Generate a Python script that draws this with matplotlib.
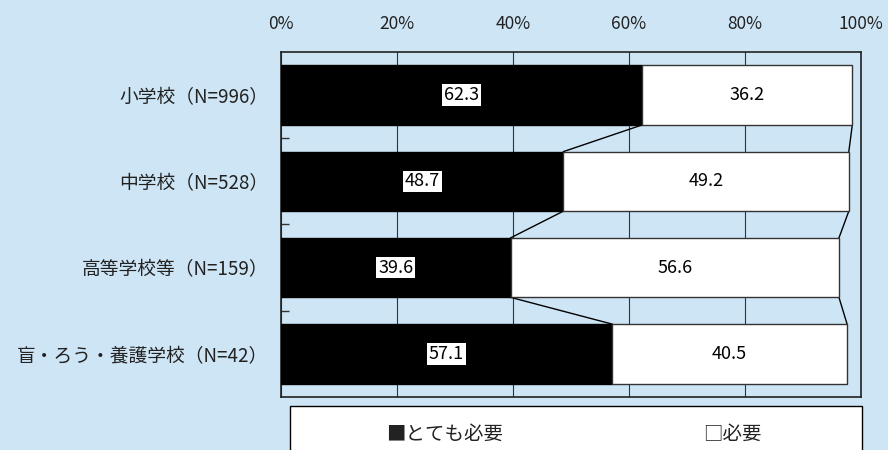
import matplotlib.pyplot as plt
from matplotlib.patches import Rectangle

plt.rcParams['font.family'] = ['Noto Sans CJK JP', 'DejaVu Sans']

# data
schools = ["小学校（N=996）", "中学校（N=528）", "高等学校等（N=159）", "盲・ろう・養護学校（N=42）"]
very_needed = [62.3, 48.7, 39.6, 57.1]
needed = [36.2, 49.2, 56.6, 40.5]
legend_labels = ["■とても必要", "□必要"]

bg = "#cee5f5"
fig = plt.figure(figsize=(8.88, 4.5), dpi=100, facecolor=bg)
ax = fig.add_axes([0.3164, 0.1178, 0.6532, 0.7667])
ax.set_facecolor(bg)

y = list(range(len(schools)))
h = 0.69
ax.barh(y, very_needed, height=h, color="black", edgecolor="black", linewidth=1, zorder=3)
ax.barh(y, needed, left=very_needed, height=h, color="white", edgecolor="#333333", linewidth=1, zorder=3)

# series lines between bars
for i in range(len(schools) - 1):
    ax.plot([very_needed[i], very_needed[i + 1]], [i + h / 2, i + 1 - h / 2], color="black", lw=1, zorder=2)
    t0 = very_needed[i] + needed[i]
    t1 = very_needed[i + 1] + needed[i + 1]
    ax.plot([t0, t1], [i + h / 2, i + 1 - h / 2], color="black", lw=1, zorder=2)

# data labels
for i in y:
    ax.text(very_needed[i] / 2, i, f"{very_needed[i]:.1f}", ha="center", va="center", fontsize=13,
            color="black", zorder=5,
            bbox=dict(boxstyle="square,pad=0.1", facecolor="white", edgecolor="none"))
    ax.text(very_needed[i] + needed[i] / 2, i, f"{needed[i]:.1f}", ha="center", va="center",
            fontsize=13, color="black", zorder=5)

ax.set_xlim(0, 100)
ax.set_ylim(len(schools) - 0.5, -0.5)
ax.set_xticks([0, 20, 40, 60, 80, 100])
ax.set_xticklabels(["0%", "20%", "40%", "60%", "80%", "100%"], fontsize=12.5)
ax.xaxis.tick_top()
ax.tick_params(axis="x", length=0, pad=14, colors="#222222")
ax.set_yticks(y)
ax.set_yticklabels(schools, fontsize=13.5)
ax.tick_params(axis="y", length=0, pad=9, colors="#222222")
ax.set_yticks([0.5, 1.5, 2.5], minor=True)
ax.tick_params(axis="y", which="minor", direction="in", length=6, width=1, color="#333333")
ax.grid(axis="x", color="#333333", lw=0.8, zorder=0)
for s in ax.spines.values():
    s.set_color("#222222")
    s.set_linewidth(1.2)

# legend box
fig.patches.append(Rectangle((290 / 888, -0.02), 572 / 888, 0.0978 + 0.02, transform=fig.transFigure,
                             facecolor="white", edgecolor="black", lw=1))
fig.text(445 / 888, 1 - 434 / 450, legend_labels[0], ha="center", va="center", fontsize=14, color="#222222")
fig.text(732 / 888, 1 - 434 / 450, legend_labels[1], ha="center", va="center", fontsize=14, color="#222222")

fig.savefig("out.png", dpi=100, facecolor=bg)
